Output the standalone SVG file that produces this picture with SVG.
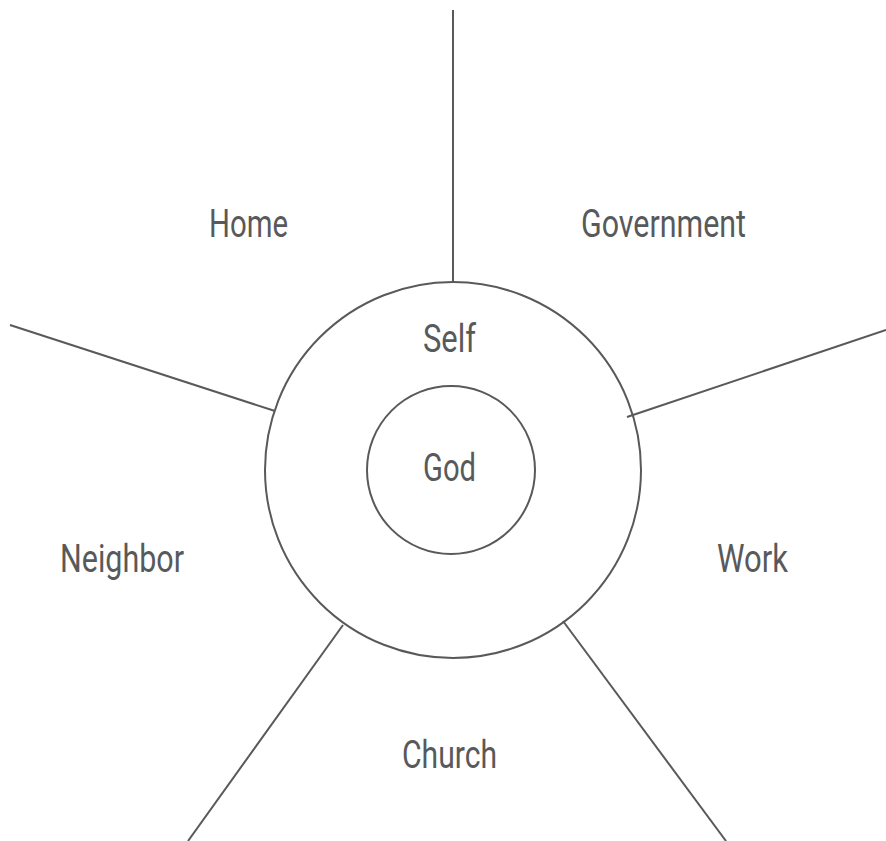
<svg xmlns="http://www.w3.org/2000/svg" width="886" height="841" viewBox="0 0 886 841">
<style>
.l{stroke:#58595b;stroke-width:2;fill:none}
.t{font-family:Roboto,"Liberation Sans",sans-serif;font-size:38px;fill:#58595b;text-anchor:start}
</style>
<rect width="886" height="841" fill="#fff"/>
<g id="connectors">
<line class="l" x1="453" y1="10" x2="453" y2="282"/>
<line class="l" x1="10" y1="325" x2="275" y2="411"/>
<line class="l" x1="886" y1="330" x2="627" y2="417"/>
<line class="l" x1="343" y1="625" x2="188" y2="841"/>
<line class="l" x1="563" y1="621" x2="726" y2="841"/>
</g>
<g id="self"><circle class="l" cx="453" cy="470" r="188"/><text class="t" x="423" y="352" textLength="53" lengthAdjust="spacingAndGlyphs">Self</text></g>
<g id="god"><circle class="l" cx="451" cy="470" r="84"/><text class="t" x="423" y="481" textLength="53" lengthAdjust="spacingAndGlyphs">God</text></g>
<g id="home"><text class="t" x="209" y="237" textLength="79" lengthAdjust="spacingAndGlyphs">Home</text></g>
<g id="government"><text class="t" x="581" y="237" textLength="165" lengthAdjust="spacingAndGlyphs">Government</text></g>
<g id="neighbor"><text class="t" x="60" y="572" textLength="124" lengthAdjust="spacingAndGlyphs">Neighbor</text></g>
<g id="work"><text class="t" x="717" y="572" textLength="71" lengthAdjust="spacingAndGlyphs">Work</text></g>
<g id="church"><text class="t" x="402" y="768" textLength="95" lengthAdjust="spacingAndGlyphs">Church</text></g>
</svg>
